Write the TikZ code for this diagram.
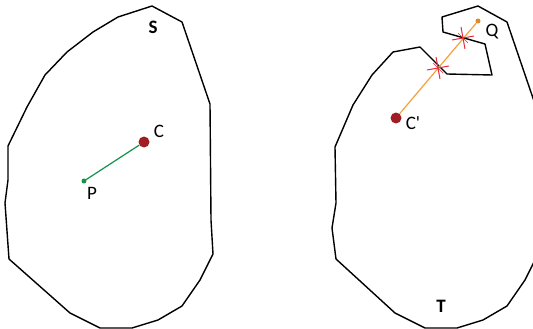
\documentclass[tikz,border=0pt]{standalone}
\usepackage{fontspec}
\setmainfont{Carlito}
\usetikzlibrary{positioning,calc}
\definecolor{outline}{HTML}{000000}
\definecolor{centre}{HTML}{A01E23}
\definecolor{pgreen}{HTML}{12934A}
\definecolor{qorange}{HTML}{F5A03A}
\definecolor{qdot}{HTML}{E0892A}
\definecolor{hit}{HTML}{E8283C}

\begin{document}
\begin{tikzpicture}[x=1pt, y=-1pt,
    region/.style={draw=outline, line width=1.4pt, line join=round},
    bigdot/.style={circle, fill=centre, inner sep=0pt, minimum size=11pt},
    smalldot/.style={circle, inner sep=0pt, minimum size=5pt},
    lbl/.style={font=\fontsize{19}{21}\selectfont, inner sep=0pt},
    hitmark/.style={draw=hit, line width=1pt}]
    \useasboundingbox (0,0) rectangle (533,329);
    \clip (0,0) rectangle (533,329);

    % Shape S
    \draw[region] (152,6) -- (182,22) -- (210,104) -- (211,220) -- (213,254) -- (200,280)
        -- (182,306) -- (158,320) -- (132,328) -- (100,328) -- (70,313) -- (9,259)
        -- (5,203) -- (8,180) -- (8,146) -- (27,107) -- (45,75) -- (67,52) -- (93,32)
        -- (118,17) -- cycle;
    \node[lbl, font=\fontsize{19}{21}\selectfont\bfseries] (s) at (153,27) {S};

    % Shape T
    \draw[region] (478,6) -- (507,22) -- (535,104) -- (536,220) -- (538,254) -- (525,280)
        -- (507,306) -- (483,320) -- (457,328) -- (425,328) -- (395,313) -- (336,259)
        -- (332,228) -- (336,203) -- (335,147) -- (353,105) -- (372,75) -- (393,52)
        -- (420,47) -- (447,74) -- (492,75) -- (485,44) -- (443,32) -- (442,17) -- cycle;
    \node[lbl, font=\fontsize{19}{21}\selectfont\bfseries] (t) at (441,306) {T};

    % Centres and points
    \node[bigdot] (c) at (144,142) {};
    \node[smalldot, fill=pgreen] (p) at (84,181) {};
    \node[bigdot] (cp) at (396,118) {};
    \node[smalldot, fill=qdot] (q) at (478,21) {};

    \node[lbl] (clbl) at (159,131) {C};
    \node[lbl] (plbl) at (92,193) {P};
    \node[lbl] (cplbl) at (413,123) {C\textquotesingle};
    \node[lbl] (qlbl) at (492,32) {Q};

    % Connections
    \draw[pgreen, line width=1.2pt] (p) -- (c);
    \draw[qorange, line width=1.2pt] (cp) -- (q);

    % Crossings
    \coordinate (x1) at (438,68);
    \coordinate (x2) at (463,38);
    \foreach \x in {x1,x2} {
        \draw[hitmark] ($(\x)+(-2,-11)$) -- ($(\x)+(2,11)$);
        \draw[hitmark] ($(\x)+(-11,2)$) -- ($(\x)+(11,-2)$);
        \draw[hitmark, line width=0.6pt] ($(\x)+(-5,-5)$) -- ($(\x)+(5,5)$);
    }
\end{tikzpicture}
\end{document}
